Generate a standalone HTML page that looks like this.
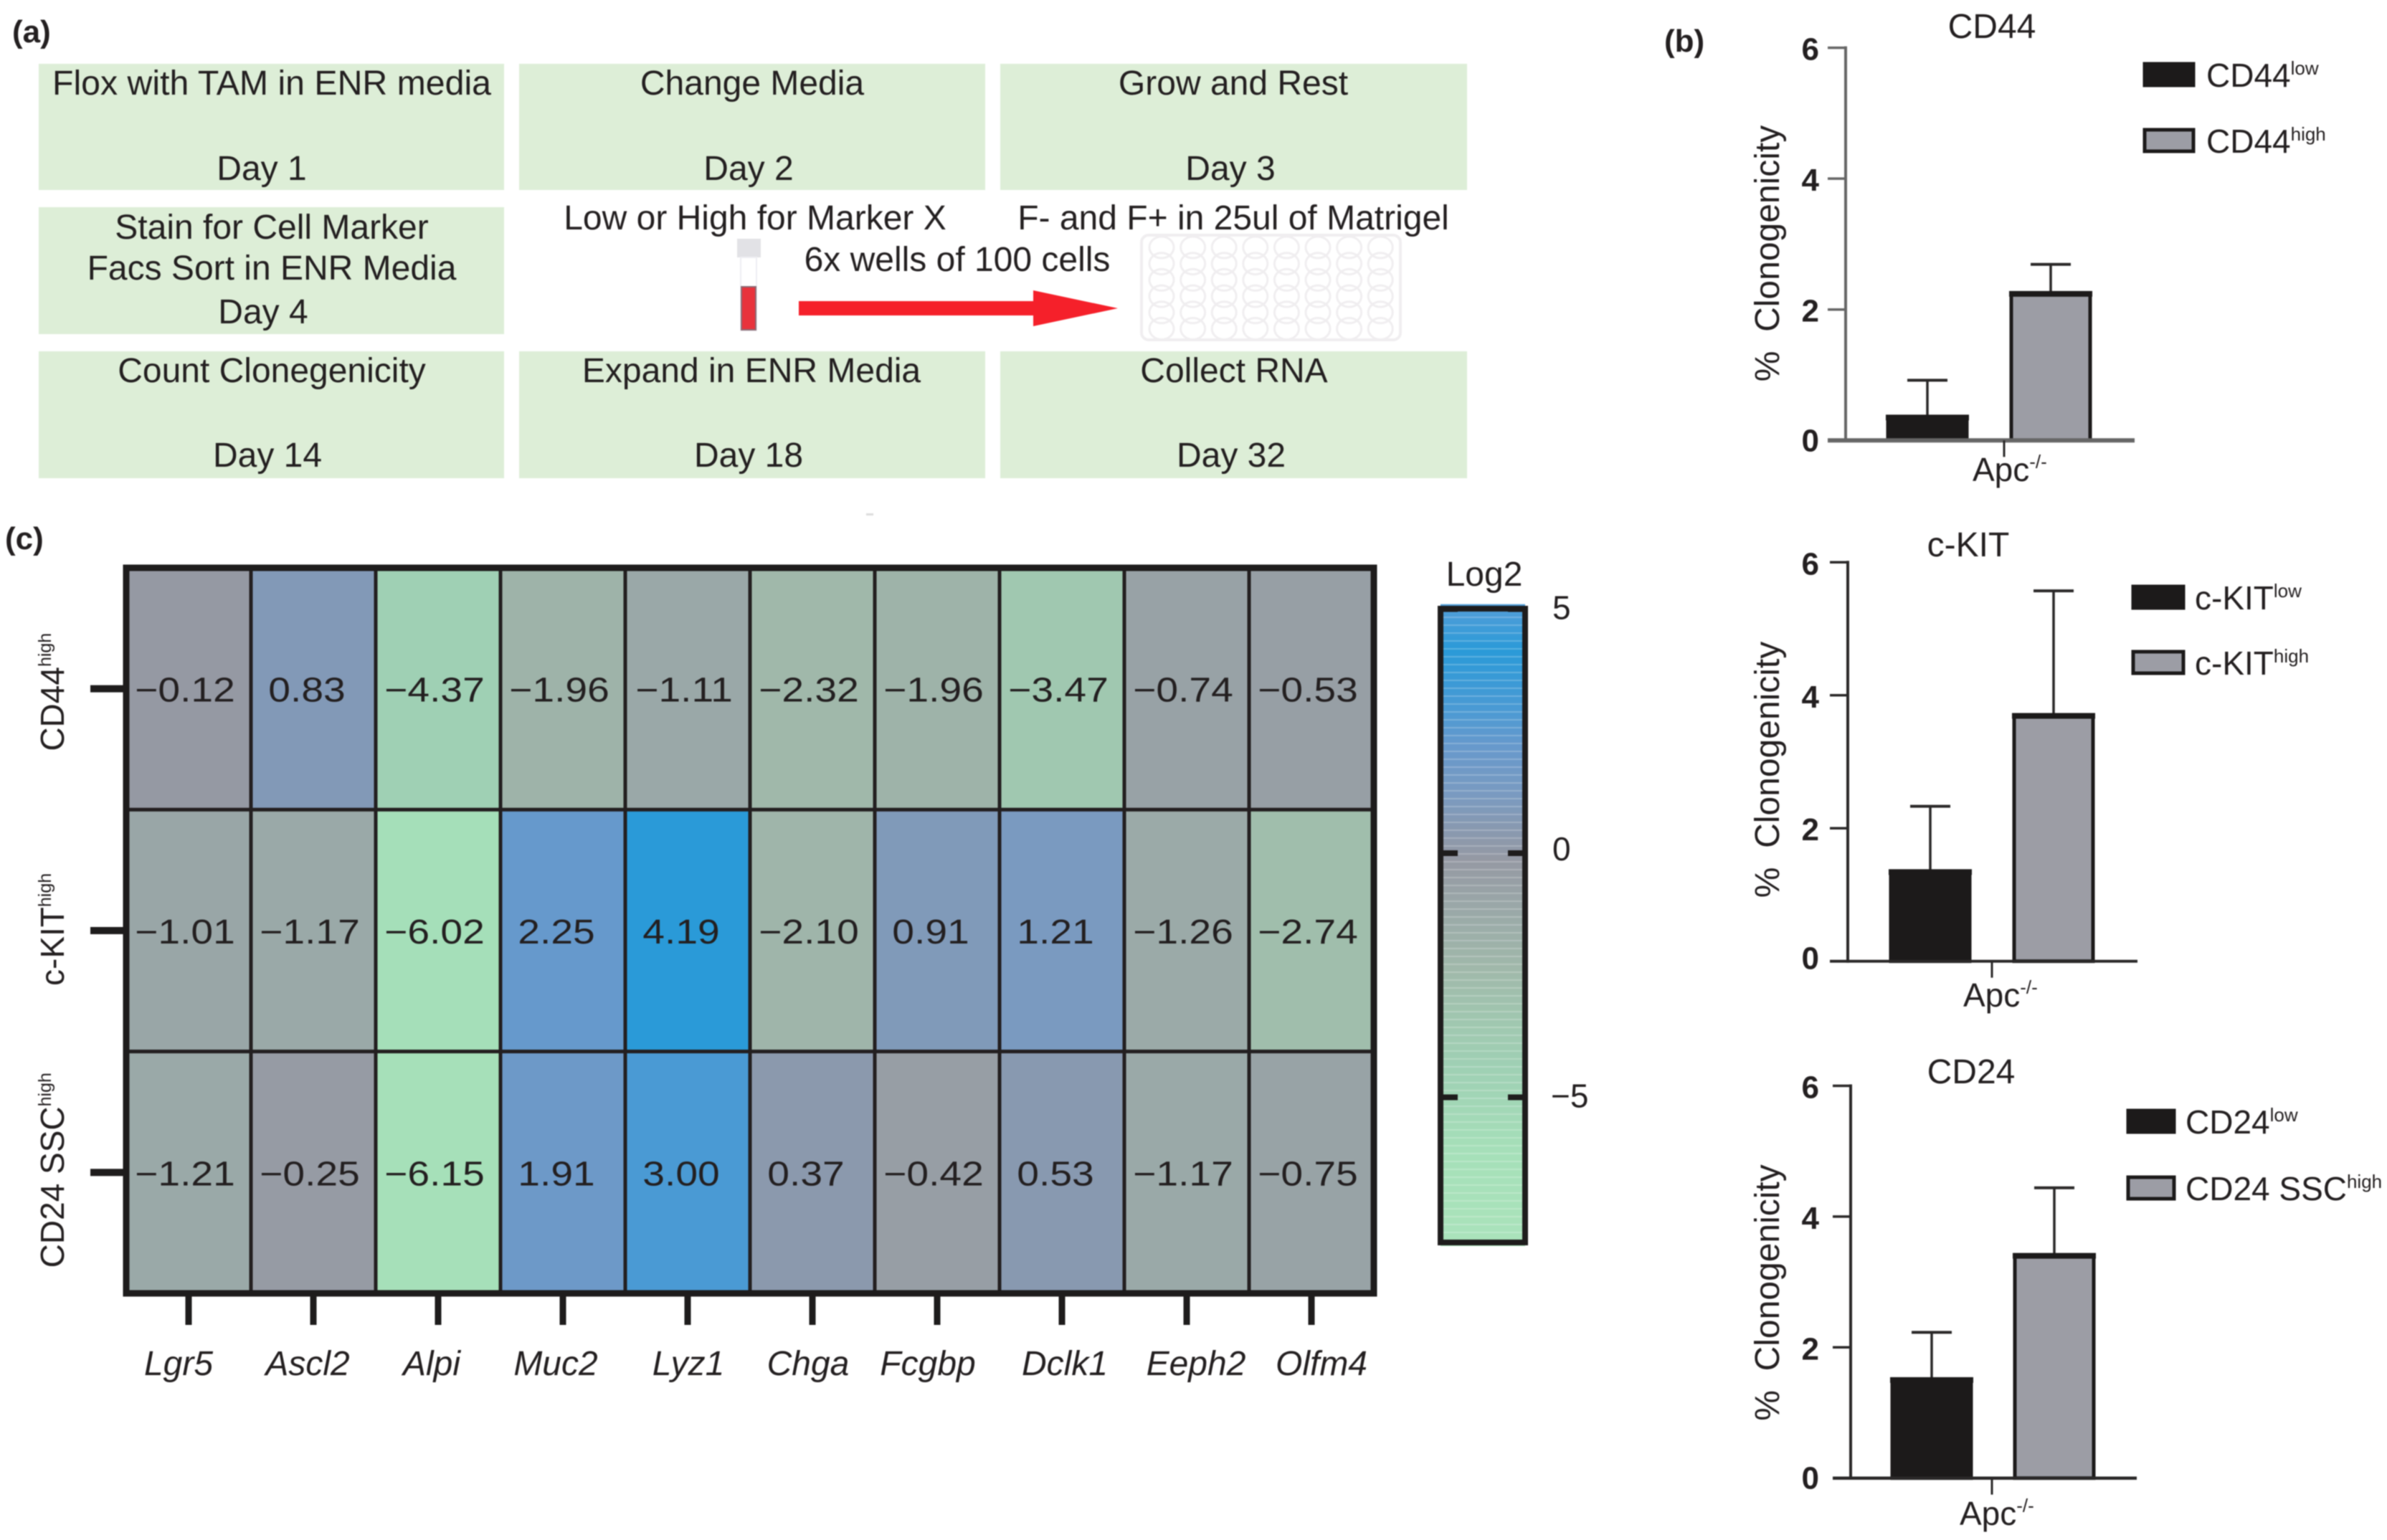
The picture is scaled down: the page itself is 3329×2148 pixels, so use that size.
<!DOCTYPE html>
<html lang="en">
<head>
<meta charset="utf-8">
<title>Clonogenicity workflow, bar charts and heatmap</title>
<style>
html,body{margin:0;padding:0;background:#fff;}
svg{display:block;filter:blur(0.8px);}
text{font-family:"Liberation Sans",sans-serif;fill:#231f20;}
</style>
</head>
<body>
<svg id="figure" xmlns="http://www.w3.org/2000/svg" width="3329" height="2148" viewBox="0 0 3329 2148">
<rect x="0" y="0" width="3329" height="2148" fill="#ffffff"/>
<g id="panel-a" font-size="48" text-anchor="middle">
  <text x="17" y="59" font-size="44" font-weight="bold" text-anchor="start">(a)</text>
  <rect x="54" y="89" width="649" height="176" fill="#ddeed7"/>
  <rect x="724" y="89" width="650" height="176" fill="#ddeed7"/>
  <rect x="1395" y="89" width="651" height="176" fill="#ddeed7"/>
  <rect x="54" y="289" width="649" height="177" fill="#ddeed7"/>
  <rect x="54" y="490" width="649" height="177" fill="#ddeed7"/>
  <rect x="724" y="490" width="650" height="177" fill="#ddeed7"/>
  <rect x="1395" y="490" width="651" height="177" fill="#ddeed7"/>
  <text x="379" y="132" textLength="612" lengthAdjust="spacingAndGlyphs">Flox with TAM in ENR media</text>
  <text x="1049" y="132">Change Media</text>
  <text x="1720" y="132">Grow and Rest</text>
  <text x="365" y="251">Day 1</text>
  <text x="1044" y="251">Day 2</text>
  <text x="1716" y="251">Day 3</text>
  <text x="379" y="333">Stain for Cell Marker</text>
  <text x="379" y="390">Facs Sort in ENR Media</text>
  <text x="367" y="451">Day 4</text>
  <text x="1053" y="320">Low or High for Marker X</text>
  <text x="1720" y="320">F- and F+ in 25ul of Matrigel</text>
  <text x="1335" y="378">6x wells of 100 cells</text>
  <text x="379" y="533">Count Clonegenicity</text>
  <text x="1048" y="533">Expand in ENR Media</text>
  <text x="1721" y="533">Collect RNA</text>
  <text x="373" y="651">Day 14</text>
  <text x="1044" y="651">Day 18</text>
  <text x="1717" y="651">Day 32</text>
  <g>
    <rect x="1028" y="333" width="33" height="26" fill="#e2e2e6"/>
    <rect x="1033" y="359" width="22" height="102" fill="#ffffff" stroke="#eeeef2" stroke-width="2"/>
    <rect x="1034" y="400" width="20" height="60" fill="#e8333c" stroke="#8a6a74" stroke-width="2"/>
  </g>
  <path d="M1114 420H1441V405L1559 430L1441 455V440H1114Z" fill="#f5202a"/>
  <g id="plate">
    <rect x="1592" y="328" width="361" height="146" rx="10" fill="#ffffff" stroke="#f0eef0" stroke-width="4"/>
  </g>
  <rect x="1208" y="716" width="10" height="3" fill="#dddddd"/>
</g>
<text x="2321" y="72" font-size="44" font-weight="bold">(b)</text>
<text x="7" y="766" font-size="44" font-weight="bold">(c)</text>
<g id="heatmap"></g>
<g id="colorbar"></g>
<g id="bars"></g>
</svg>
<script>
// Heatmap data
const heatGenes = ['Lgr5','Ascl2','Alpi','Muc2','Lyz1','Chga','Fcgbp','Dclk1','Eeph2','Olfm4'];
const heatRowNames = ['CD44','c-KIT','CD24 SSC'];
const heatCD44 = [-0.12,0.83,-4.37,-1.96,-1.11,-2.32,-1.96,-3.47,-0.74,-0.53];
const heatCKIT = [-1.01,-1.17,-6.02,2.25,4.19,-2.10,0.91,1.21,-1.26,-2.74];
const heatCD24 = [-1.21,-0.25,-6.15,1.91,3.00,0.37,-0.42,0.53,-1.17,-0.75];
const colorbarTicks = [5,0,-5];
const colorStopValues = [5,4.19,3,2.25,1.21,0.53,-0.12,-1.11,-2.32,-3.47,-4.37,-6.15,-8];
const colorStopHex = ['#4f9dd8','#2a9ad8','#4a9ad4','#6699cc','#7a9ac0','#8899b0','#9599a3','#9aa8a8','#a0b8aa','#a0c8b0','#9fd0b4','#a6e0b9','#aae3bb'];

// Bar chart data
const barTicks = [0,2,4,6];
const cd44Means = [0.35,2.24];
const cd44ErrorTops = [0.92,2.69];
const ckitMeans = [1.34,3.69];
const ckitErrorTops = [2.33,5.57];
const cd24Means = [1.50,3.40];
const cd24ErrorTops = [2.23,4.44];

const NS = 'http://www.w3.org/2000/svg';
function mk(tag, attrs, parent) {
  const el = document.createElementNS(NS, tag);
  for (const k in attrs) el.setAttribute(k, attrs[k]);
  parent.appendChild(el);
  return el;
}
function supText(el, base, sup, supSize, lift) {
  const a = document.createElementNS(NS, 'tspan');
  a.textContent = base;
  el.appendChild(a);
  const b = document.createElementNS(NS, 'tspan');
  b.textContent = sup;
  b.setAttribute('font-size', supSize);
  b.setAttribute('dy', -lift);
  el.appendChild(b);
}
function hexToRgb(h) {
  return [1,3,5].map(i => parseInt(h.substr(i,2),16));
}
function colorScale(v) {
  const n = colorStopValues.length;
  if (v >= colorStopValues[0]) return colorStopHex[0];
  if (v <= colorStopValues[n-1]) return colorStopHex[n-1];
  for (let i = 0; i < n-1; i++) {
    if (v <= colorStopValues[i] && v >= colorStopValues[i+1]) {
      const t = (colorStopValues[i]-v)/(colorStopValues[i]-colorStopValues[i+1]);
      const a = hexToRgb(colorStopHex[i]), b = hexToRgb(colorStopHex[i+1]);
      return 'rgb(' + a.map((c,j) => Math.round(c+(b[j]-c)*t)).join(',') + ')';
    }
  }
  return colorStopHex[0];
}

// Well plate illustration
(function () {
  const plate = document.getElementById('plate');
  for (let r = 0; r < 6; r++) {
    for (let c = 0; c < 8; c++) {
      const w = mk('ellipse', {cx:1620+c*43.6, cy:345+r*22.7, rx:17, ry:15, fill:'none', stroke:'#f0eef0', 'stroke-width':3}, plate);
      
      
    }
  }
})();

// Heatmap
(function () {
  const g = document.getElementById('heatmap');
  const rows = [heatCD44, heatCKIT, heatCD24];
  const X0 = 176, Y0 = 792, CW = 174, CH = 337.33;
  const xBand = i => X0 + i*CW;
  const yBand = j => Y0 + j*CH;
  const xLabelNudge = [-14,-8,-9,-10,1,-6,-13,4,13,14];
  rows.forEach((vals, j) => {
    vals.forEach((v, i) => {
      const cell = mk('rect', {x:xBand(i), y:yBand(j), width:CW, height:CH, fill:colorScale(v), stroke:'#231f20', 'stroke-width':5}, g);
      
      
      const tx = xBand(i)+CW/2+(v<0?-5:-9), ty = yBand(j)+CH/2+18;
      const t = mk('text', {transform:'translate('+tx+','+ty+') scale(1.15,1)', 'font-size':48, 'text-anchor':'middle'}, g);
      t.textContent = (v<0?'\u2212':'')+Math.abs(v).toFixed(2);
      
      
    });
    const tick = mk('rect', {x:126, y:yBand(j)+CH/2-5, width:46, height:10, fill:'#1e1c1c'}, g);
    
    
    const startY = yBand(j)+CH/2+[87,77,133][j];
    const lab = mk('text', {transform:'translate(89,'+startY+') rotate(-90)', 'font-size':46}, g);
    supText(lab, heatRowNames[j], 'high', 25, 18);
    
    
  });
  const frame = mk('rect', {x:X0, y:Y0, width:CW*heatGenes.length, height:CH*rows.length, fill:'none', stroke:'#1e1c1c', 'stroke-width':9}, g);
  
  
  heatGenes.forEach((name, i) => {
    const cx = xBand(i)+CW/2;
    const tick = mk('rect', {x:cx-4.5, y:1806, width:9, height:42, fill:'#1e1c1c'}, g);
    
    
    const lab = mk('text', {x:cx+xLabelNudge[i], y:1918, 'font-size':48, 'font-style':'italic', 'text-anchor':'middle'}, g);
    lab.textContent = name;
    
    
  });
})();

// Colorbar
(function () {
  const g = document.getElementById('colorbar');
  const yOf = v => 1190 - v*68.1;
  const step = 0.06;
  for (let v = 5.1; v > -8; v -= step) {
    const b = mk('rect', {x:2009, y:yOf(v), width:118, height:step*68.1+0.6, fill:colorScale(v)}, g);
    
    
  }
  for (let y = 860; y < 1730; y += 11) {
    const s = mk('rect', {x:2009, y:y, width:118, height:2, fill:'#ffffff', opacity:0.22}, g);
    
    
  }
  const f = mk('rect', {x:2009, y:849, width:118, height:884, fill:'none', stroke:'#1e1c1c', 'stroke-width':8}, g);
  
  
  const title = mk('text', {x:2070, y:817, 'font-size':48, 'text-anchor':'middle'}, g);
  title.textContent = 'Log2';
  
  
  colorbarTicks.forEach(v => {
    const l = mk('rect', {x:2009, y:yOf(v)-4, width:24, height:8, fill:'#1e1c1c'}, g);
    
    
    const r = mk('rect', {x:2103, y:yOf(v)-4, width:24, height:8, fill:'#1e1c1c'}, g);
    
    
    const t = mk('text', {x:v<0?2163:2165, y:yOf(v)+(v===0?10:14), 'font-size':46}, g);
    t.textContent = (v<0?'\u2212':'')+Math.abs(v);
    
    
  });
})();

// Bar charts
function drawBarChart(o) {
  const root = document.getElementById('bars');
  const g = mk('g', {}, root);
  
  
  const yOf = v => o.y0 - v*(o.y0-o.y6)/6;
  const xOf = i => o.cx0 + i*o.step;

  const title = mk('text', {x:o.titleX, y:o.titleY, 'font-size':48, 'text-anchor':'middle'}, g);
  title.textContent = o.title;
  
  

  const yt = mk('text', {transform:'translate(2481,'+o.ytY+') rotate(-90)', 'font-size':48, 'text-anchor':'middle', 'xml:space':'preserve'}, g);
  yt.textContent = '%\u00a0\u00a0Clonogenicity';
  
  

  o.means.forEach((m, i) => {
    const cx = xOf(i);
    const stem = mk('line', {x1:cx, x2:cx, y1:yOf(m), y2:yOf(o.errs[i]), stroke:'#2a2828', 'stroke-width':3.5}, g);
    
    
    const cap = mk('line', {x1:cx-28, x2:cx+28, y1:yOf(o.errs[i]), y2:yOf(o.errs[i]), stroke:'#2a2828', 'stroke-width':4}, g);
    
    
    const bar = mk('rect', {x:cx-55, y:yOf(m), width:110, height:yOf(0)-yOf(m), fill:i===0?'#1c1a1a':'#9c9da5', stroke:'#1c1a1a', 'stroke-width':5}, g);
    
    
    const lid = mk('line', {x1:cx-58, x2:cx+58, y1:yOf(m), y2:yOf(m), stroke:'#1c1a1a', 'stroke-width':8}, g);
    
    
  });

  const ya = mk('line', {x1:o.axisX, x2:o.axisX, y1:o.y6-2, y2:o.y0+2, stroke:o.axisColor, 'stroke-width':4}, g);
  
  
  const xa = mk('line', {x1:o.axisX-25, x2:o.xEnd, y1:o.y0, y2:o.y0, stroke:o.axisColor, 'stroke-width':o.xAxisWidth}, g);
  
  
  const xt = mk('line', {x1:o.xTick, x2:o.xTick, y1:o.y0, y2:o.y0+23, stroke:'#2a2828', 'stroke-width':3}, g);
  
  

  barTicks.forEach(v => {
    const t = mk('line', {x1:o.axisX-25, x2:o.axisX, y1:yOf(v), y2:yOf(v), stroke:o.axisColor, 'stroke-width':3.5}, g);
    
    
    const labelDy = v === 0 ? o.zeroDy : 17;
    const l = mk('text', {x:2537, y:yOf(v)+labelDy, 'font-size':44, 'font-weight':'bold', 'text-anchor':'end'}, g);
    l.textContent = v;
    
    
  });

  const apc = mk('text', {x:o.apcX, y:o.apcY, 'font-size':46}, g);
  supText(apc, 'Apc', '-/-', 26, 18);
  
  

  o.legend.forEach((e, i) => {
    const sw = mk('rect', {x:o.swX, y:e.y, width:o.swW, height:30, fill:i===0?'#1c1a1a':'#9c9da5', stroke:'#1c1a1a', 'stroke-width':5}, g);
    
    
    const tx = mk('text', {x:o.legX, y:e.y+32, 'font-size':46}, g);
    supText(tx, e.base, e.sup, 26, 17);
    
    
  });
}

drawBarChart({name:'cd44', title:'CD44', titleX:2778, titleY:53, means:cd44Means, errs:cd44ErrorTops,
  y0:614.3, y6:66.6, axisX:2574, xEnd:2977, xTick:2795, cx0:2688, step:172, axisColor:'#666666', xAxisWidth:6,
  ytY:353.5, apcX:2751, apcY:671, swX:2991, swW:68, legX:3077, zeroDy:15,
  legend:[{y:89,base:'CD44',sup:'low'},{y:181,base:'CD44',sup:'high'}]});
drawBarChart({name:'c-kit', title:'c-KIT', titleX:2745, titleY:776, means:ckitMeans, errs:ckitErrorTops,
  y0:1340.7, y6:784.3, axisX:2577, xEnd:2981, xTick:2778, cx0:2692, step:172, axisColor:'#2a2828', xAxisWidth:4,
  ytY:1073.5, apcX:2738, apcY:1404, swX:2975, swW:70, legX:3061, zeroDy:11,
  legend:[{y:818,base:'c-KIT',sup:'low'},{y:909,base:'c-KIT',sup:'high'}]});
drawBarChart({name:'cd24', title:'CD24', titleX:2749, titleY:1511, means:cd24Means, errs:cd24ErrorTops,
  y0:2061.7, y6:1514.5, axisX:2581, xEnd:2980, xTick:2778, cx0:2694, step:171, axisColor:'#2a2828', xAxisWidth:4.5,
  ytY:1803, apcX:2733, apcY:2127, swX:2968, swW:64, legX:3048, zeroDy:15,
  legend:[{y:1549,base:'CD24',sup:'low'},{y:1642,base:'CD24 SSC',sup:'high'}]});
</script>
</body>
</html>
